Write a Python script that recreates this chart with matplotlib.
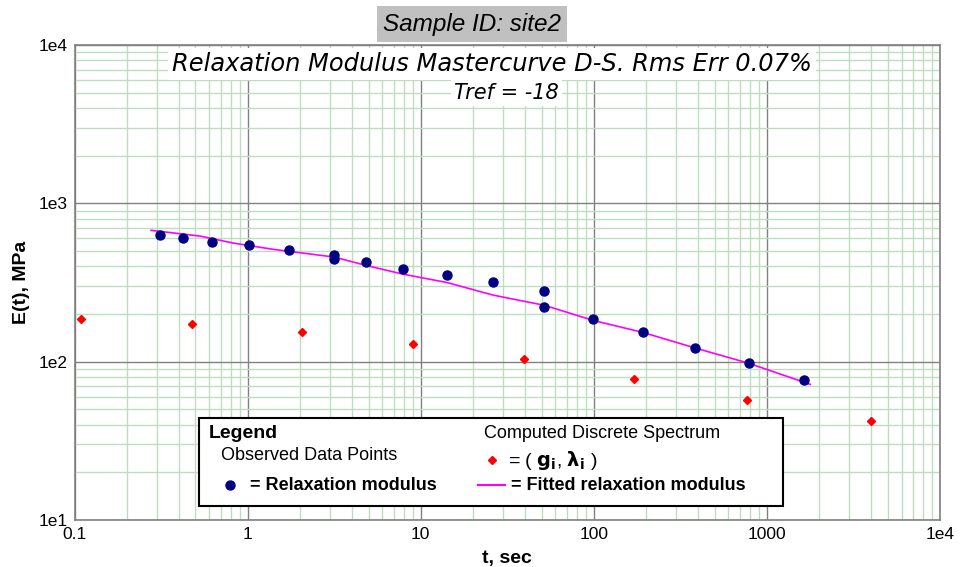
import matplotlib
matplotlib.use("Agg")
import matplotlib.pyplot as plt
from matplotlib.lines import Line2D
from matplotlib.patches import Rectangle
from matplotlib.ticker import LogLocator, FixedLocator, FixedFormatter, NullFormatter

# observed relaxation modulus (t in sec, E in MPa)
obs_t = [0.312, 0.425, 0.622, 1.02, 1.74, 3.17, 3.17, 4.85, 7.91, 14.2,
         26.3, 51.8, 51.8, 99.3, 192, 385, 788, 1644]
obs_E = [632, 601, 573, 545, 505, 474, 445, 426, 387, 351,
         318, 281, 221, 186, 153, 122, 97.6, 76.2]

# computed discrete spectrum (g_i, lambda_i)
spec_t = [0.109, 0.478, 2.07, 9.03, 39.5, 171, 771, 4010]
spec_E = [187, 172, 153, 128.6, 103.4, 78.1, 56.9, 42.5]

# fitted relaxation modulus
fit_t = [0.277, 0.356, 0.531, 0.827, 1.41, 3.16, 4.85, 7.9, 14.2, 26.3,
         51.8, 99.6, 192, 385, 788, 1780]
fit_E = [675, 654, 621, 561, 512, 458, 405, 357, 316, 263,
         227, 182, 153, 122, 97.6, 71.9]

x_ticks = [0.1, 1, 10, 100, 1000, 10000]
x_labels = ["0.1", "1", "10", "100", "1000", "1e4"]
y_ticks = [10, 100, 1000, 10000]
y_labels = ["1e1", "1e2", "1e3", "1e4"]

W, H = 976, 567
fig = plt.figure(figsize=(W / 100, H / 100), dpi=100)
fig.patch.set_facecolor("white")


def fx(px):
    return px / W


def fy(py):
    return 1 - py / H


ax = fig.add_axes([fx(74.5), fy(520), fx(940) - fx(74.5), fy(45) - fy(520)])
ax.set_xscale("log")
ax.set_yscale("log")
ax.set_xlim(0.1, 1e4)
ax.set_ylim(10, 1e4)

ax.xaxis.set_major_locator(FixedLocator(x_ticks))
ax.xaxis.set_major_formatter(FixedFormatter(x_labels))
ax.yaxis.set_major_locator(FixedLocator(y_ticks))
ax.yaxis.set_major_formatter(FixedFormatter(y_labels))
for a in (ax.xaxis, ax.yaxis):
    a.set_minor_locator(LogLocator(base=10, subs=range(2, 10), numticks=20))
    a.set_minor_formatter(NullFormatter())

ax.grid(True, which="minor", color="#bfdcbf", lw=1.0)
ax.grid(True, which="major", color="#808080", lw=1.0)
ax.set_axisbelow(True)
ax.tick_params(which="both", length=0, labelsize=12.5, pad=5)
for lab in ax.get_xticklabels() + ax.get_yticklabels():
    lab.set_family("Liberation Sans")
for s in ax.spines.values():
    s.set_color("#808080")
    s.set_linewidth(1.2)

ax.plot(fit_t, fit_E, color="#ff00ff", lw=1.2, zorder=3)
ax.plot(obs_t, obs_E, "o", color="#000080", ms=6.5, mec="#000080", zorder=4, clip_on=False)
ax.plot(spec_t, spec_E, "D", color="#ff0000", ms=4.2, zorder=4, clip_on=False)

ax.set_xlabel("t, sec", fontsize=14, fontweight="bold", family="Liberation Sans", labelpad=6)
ax.set_ylabel("E(t), MPa", fontsize=14, fontweight="bold", family="Liberation Sans", labelpad=6)

# titles
fig.text(fx(472), fy(24), "Sample ID: site2", fontsize=17.5, style="italic",
         family="Liberation Sans", ha="center", va="center",
         bbox=dict(boxstyle="square,pad=0.25", fc="#c0c0c0", ec="none"))
fig.text(fx(492), fy(64), "Relaxation Modulus Mastercurve D-S. Rms Err 0.07%",
         fontsize=17.4, style="italic", family="DejaVu Sans", ha="center", va="center",
         bbox=dict(boxstyle="square,pad=0.15", fc="white", ec="none"))
fig.text(fx(506), fy(93), "Tref = -18", fontsize=15, style="italic",
         family="DejaVu Sans", ha="center", va="center",
         bbox=dict(boxstyle="square,pad=0.15", fc="white", ec="none"))

# legend box
fig.add_artist(Rectangle((fx(199), fy(506)), fx(783) - fx(199), fy(418) - fy(506),
                         transform=fig.transFigure, fc="white", ec="black", lw=1.5, zorder=5))
lf = dict(family="Liberation Sans", va="center", zorder=6)
fig.text(fx(209), fy(433), "Legend", fontsize=14, fontweight="bold", **lf)
fig.text(fx(221), fy(456), "Observed Data Points", fontsize=13, **lf)
fig.text(fx(250), fy(485), "= Relaxation modulus", fontsize=13, fontweight="bold", **lf)
fig.text(fx(484), fy(434), "Computed Discrete Spectrum", fontsize=13, **lf)
fig.text(fx(508), fy(460), r"= ( $\mathbf{g_i}$, $\mathbf{\lambda_i}$ )", fontsize=14, **lf)
fig.text(fx(511), fy(485), "= Fitted relaxation modulus", fontsize=13, fontweight="bold", **lf)
fig.add_artist(Line2D([fx(230)], [fy(485)], marker="o", color="#000080", ms=6.5,
                      transform=fig.transFigure, zorder=6))
fig.add_artist(Line2D([fx(492)], [fy(460)], marker="D", color="#ff0000", ms=4.2,
                      transform=fig.transFigure, zorder=6))
fig.add_artist(Line2D([fx(478), fx(505)], [fy(485), fy(485)], color="#ff00ff", lw=1.5,
                      transform=fig.transFigure, zorder=6))

fig.savefig("out.png", dpi=100)
